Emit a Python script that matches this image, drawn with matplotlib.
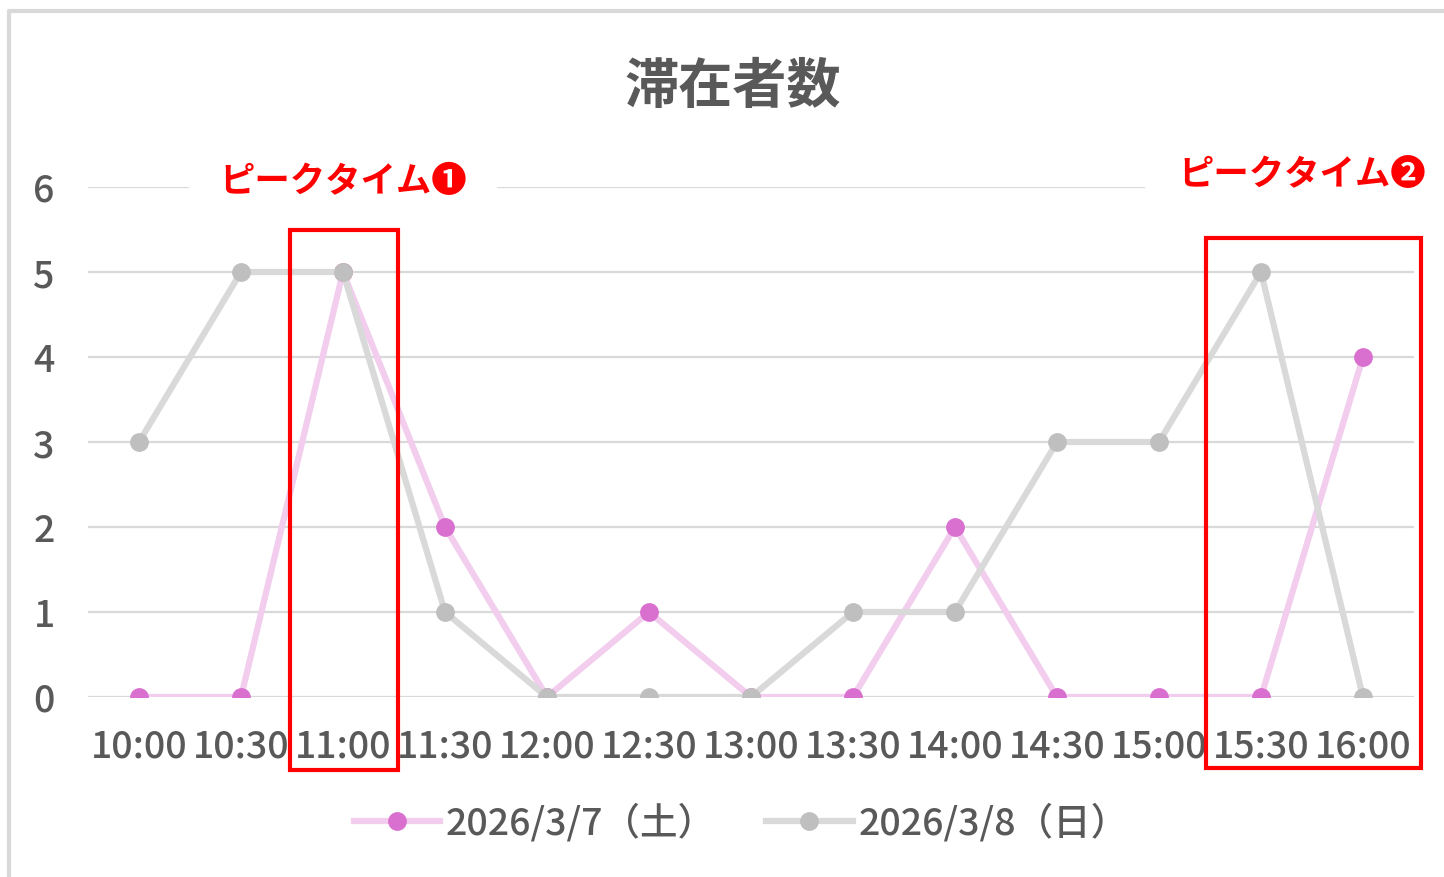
import matplotlib.pyplot as plt
from matplotlib.patches import Rectangle
from matplotlib.lines import Line2D

plt.rcParams['font.family'] = ['Noto Sans CJK JP', 'DejaVu Sans']

# data
times = ["10:00", "10:30", "11:00", "11:30", "12:00", "12:30", "13:00",
         "13:30", "14:00", "14:30", "15:00", "15:30", "16:00"]
sat_counts = [0, 0, 5, 2, 0, 1, 0, 0, 2, 0, 0, 0, 4]
sun_counts = [3, 5, 5, 1, 0, 0, 0, 1, 1, 3, 3, 5, 0]
series_labels = ["2026/3/7（土）", "2026/3/8（日）"]
title = "滞在者数"
peak_labels = ["ピークタイム❶", "ピークタイム❷"]

W, H = 1444, 877
fig = plt.figure(figsize=(W / 100, H / 100), dpi=100)
ax = fig.add_axes([88 / W, 1 - 697 / H, (1414 - 88) / W, (697 - 187) / H])

x = list(range(len(times)))
grid_c = "#d9d9d9"
text_c = "#595959"

# gridlines
for yv in range(0, 7):
    ax.axhline(yv, color=grid_c, lw=1.6, zorder=1)

ax.plot(x, sat_counts, color="#f2cdee", lw=4.5, zorder=3,
        marker="o", ms=12.5, mfc="#d96fcf", mec="#d96fcf")
ax.plot(x, sun_counts, color=grid_c, lw=4.5, zorder=4,
        marker="o", ms=12.5, mfc="#bfbfbf", mec="#bfbfbf")

ax.set_xlim(-0.5, len(times) - 0.5)
ax.set_ylim(0, 6)
ax.set_xticks(x)
ax.set_xticklabels(times)
ax.set_yticks(range(0, 7))
ax.tick_params(length=0, labelsize=27, colors=text_c)
ax.tick_params(axis="y", pad=24)
ax.tick_params(axis="x", pad=22)
for lab in ax.get_xticklabels() + ax.get_yticklabels():
    lab.set_fontweight("medium")
for s in ax.spines.values():
    s.set_visible(False)

fig.text(733 / W, 1 - 87 / H, title, ha="center", va="center",
         fontsize=39, color=text_c, fontweight="bold")

# peak-time annotations
ax.text(2, 6.07, peak_labels[0], ha="center", va="center", fontsize=25.5,
        color="#ff0000", fontweight="bold", zorder=6,
        bbox=dict(facecolor="white", edgecolor="none", pad=22))
ax.text(11.4, 6.15, peak_labels[1], ha="center", va="center", fontsize=25.5,
        color="#ff0000", fontweight="bold", zorder=6, clip_on=False,
        bbox=dict(facecolor="white", edgecolor="none", pad=24))
ax.add_patch(Rectangle((1.48, -0.86), 1.06, 6.35, fill=False,
                       edgecolor="#ff0000", lw=3, zorder=7, clip_on=False))
ax.add_patch(Rectangle((10.46, -0.835), 2.11, 6.235, fill=False,
                       edgecolor="#ff0000", lw=3, zorder=7, clip_on=False))

# legend
handles = [
    Line2D([], [], color="#f2cdee", lw=4.5, marker="o", ms=12.5,
           mfc="#d96fcf", mec="#d96fcf"),
    Line2D([], [], color=grid_c, lw=4.5, marker="o", ms=12.5,
           mfc="#bfbfbf", mec="#bfbfbf"),
]
leg = fig.legend(handles, series_labels, loc="center", ncol=2,
                 bbox_to_anchor=(741 / W, 1 - 823 / H), frameon=False,
                 fontsize=27, handlelength=2.3, handletextpad=0.15,
                 columnspacing=1.35)
for t in leg.get_texts():
    t.set_color(text_c)
    t.set_fontweight("medium")

# outer border (top and left visible)
fig.add_artist(Line2D([9 / W, 9 / W, 1], [0, 1 - 11 / H, 1 - 11 / H],
                      transform=fig.transFigure, color=grid_c, lw=3))

fig.savefig("out.png", dpi=100)
